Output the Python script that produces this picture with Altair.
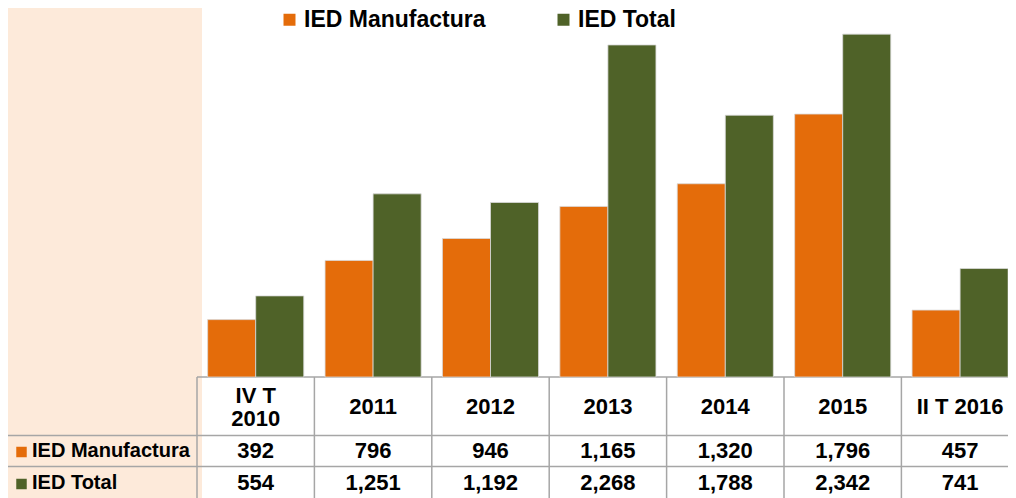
import altair as alt
import pandas as pd

categories = ["IV T 2010", "2011", "2012", "2013", "2014", "2015", "II T 2016"]
header_labels = ["IV T\n2010", "2011", "2012", "2013", "2014", "2015", "II T 2016"]
series = ["IED Manufactura", "IED Total"]
manufactura = [392, 796, 946, 1165, 1320, 1796, 457]
total = [554, 1251, 1192, 2268, 1788, 2342, 741]
colors = ["#E46C0A", "#4F6228"]

rows = []
for name, vals in zip(series, [manufactura, total]):
    for i, (c, v) in enumerate(zip(categories, vals)):
        rows.append({"cat": c, "idx": i, "serie": name, "value": v})
df = pd.DataFrame(rows)
hdr = pd.DataFrame({"cat": categories, "idx": range(len(categories)), "label": header_labels})
hdr["multi"] = hdr["label"].str.contains("\n")

FONT = "Liberation Sans"
STEP = 117.4          # pixel width of one table column
W = 811
H = 366
GRID = "#a6a6a6"
ROW_Y = [440, 472]
HEADER_Y = 396
GAP = 0.0907          # outer gap of a bar group, as a share of a column
BARW = 0.4093         # bar width as a share of a column

xscale = alt.Scale(domain=[0, W / STEP], nice=False, zero=False)
one = alt.Data(values=[{}])

peach = alt.Chart(one).mark_rect(color="#FDEADA").encode(
    x=alt.value(-189), x2=alt.value(5), y=alt.value(-3), y2=alt.value(487))

bars = alt.Chart(df).transform_calculate(
    x0=f"datum.idx + (datum.serie == '{series[0]}' ? {GAP} : 0.5)"
).transform_calculate(
    x1=f"datum.x0 + {BARW}"
).mark_bar(stroke="#d9d9d9", strokeWidth=0.8).encode(
    x=alt.X("x0:Q", scale=xscale, axis=None),
    x2="x1:Q",
    y=alt.Y("value:Q", scale=alt.Scale(domain=[0, 2500], nice=False), axis=None),
    y2=alt.datum(0),
    color=alt.Color("serie:N", scale=alt.Scale(domain=series, range=colors),
                    legend=alt.Legend(title=None, orient="none", legendX=81, legendY=-3,
                                      direction="horizontal", symbolType="square",
                                      symbolSize=144, symbolStrokeWidth=0,
                                      labelFont=FONT, labelFontSize=23, labelFontWeight="bold",
                                      labelColor="black", labelOffset=3, columnPadding=66,
                                      labelLimit=0, padding=0)),
)

vlines = alt.Chart(hdr).mark_rule(color=GRID, strokeWidth=1.5).encode(
    x=alt.X("idx:Q", scale=xscale, axis=None),
    y=alt.value(366), y2=alt.value(490))

hl = []
hl.append(alt.Chart(one).mark_rule(color=GRID, strokeWidth=1.5).encode(
    x=alt.value(0), x2=alt.value(W), y=alt.value(366)))
for yy in [424.5, 455.5, 488]:
    hl.append(alt.Chart(one).mark_rule(color=GRID, strokeWidth=1.5).encode(
        x=alt.value(-190), x2=alt.value(W), y=alt.value(yy)))
hl.append(alt.Chart(one).mark_rule(color=GRID, strokeWidth=1.5).encode(
    x=alt.value(-190), y=alt.value(424.5), y2=alt.value(490)))

XC = alt.X("xc:Q", scale=xscale, axis=None)
hstyle = dict(font=FONT, fontSize=22, fontWeight="bold", lineBreak="\n",
              lineHeight=23, baseline="middle", color="black")
header1 = alt.Chart(hdr).transform_filter("!datum.multi").transform_calculate(
    xc="datum.idx + 0.5").mark_text(**hstyle).encode(
    x=XC, y=alt.value(HEADER_Y), text="label:N")
header2 = alt.Chart(hdr).transform_filter("datum.multi").transform_calculate(
    xc="datum.idx + 0.5").mark_text(**hstyle).encode(
    x=XC, y=alt.value(HEADER_Y - 11.5), text="label:N")

texts = []
for i, name in enumerate(series):
    texts.append(alt.Chart(df).transform_filter(alt.datum.serie == name).transform_calculate(
        xc="datum.idx + 0.5").mark_text(
        font=FONT, fontSize=22, fontWeight="bold", baseline="middle", color="black").encode(
        x=XC, y=alt.value(ROW_Y[i]), text=alt.Text("value:Q", format=",")))
    texts.append(alt.Chart(one).mark_text(
        font=FONT, fontSize=20, fontWeight="bold", baseline="middle", align="left",
        color="black").encode(x=alt.value(-165), y=alt.value(ROW_Y[i]), text=alt.value(name)))
    texts.append(alt.Chart(one).mark_square(size=110, color=colors[i], opacity=1).encode(
        x=alt.value(-175.5), y=alt.value(ROW_Y[i] + 1)))

chart = alt.layer(peach, *hl, vlines, bars, header1, header2, *texts).properties(
    width=W, height=H, autosize="none",
    padding={"left": 189, "top": 3, "right": 0, "bottom": 121},
).configure_view(stroke=None)

chart.save("out.html", embed_options={"renderer": "svg", "actions": False})
